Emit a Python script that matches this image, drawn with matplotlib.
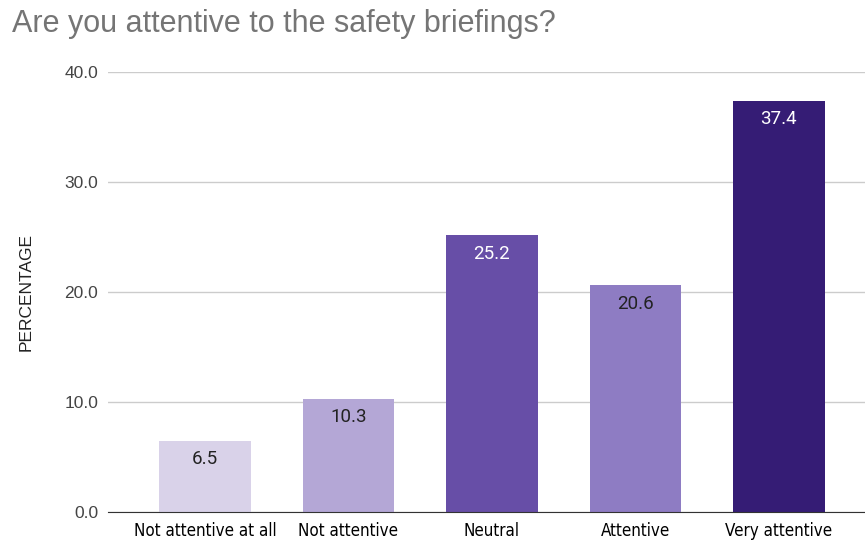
import matplotlib.pyplot as plt
from matplotlib import font_manager as fm

categories = ["Not attentive at all", "Not attentive", "Neutral", "Attentive", "Very attentive"]
values = [6.5, 10.3, 25.2, 20.6, 37.4]
colors = ["#d9d2e9", "#b4a7d6", "#674ea7", "#8e7cc3", "#351c75"]
label_colors = ["#222222", "#222222", "#ffffff", "#222222", "#ffffff"]

# narrow font for category labels if one is installed
cond = fm.FontProperties(family="DejaVu Sans", stretch="condensed", size=12.2)
if "Condensed" not in fm.findfont(cond):
    cond = fm.FontProperties(family="Liberation Sans", size=11)

fig = plt.figure(figsize=(8.65, 5.43), dpi=100)
ax = fig.add_axes([108 / 865, 31 / 543, 1 - 108 / 865, 440 / 543])

x = range(len(categories))
bars = ax.bar(x, values, width=0.64, color=colors, zorder=3)

for b, v, c in zip(bars, values, label_colors):
    ax.annotate(f"{v:.1f}", (b.get_x() + b.get_width() / 2, v),
                xytext=(0, -13.5), textcoords="offset points",
                ha="center", va="center", color=c, fontsize=13.5, family="Roboto")

ax.set_ylim(0, 40)
ax.set_xlim(-0.676, 4.6)
ax.set_yticks([0, 10, 20, 30, 40])
ax.set_yticklabels([f"{t:.1f}" for t in [0, 10, 20, 30, 40]])
ax.set_xticks(list(x))
ax.set_xticklabels(categories, fontproperties=cond)

ax.grid(axis="y", color="#cccccc", linewidth=1, zorder=0)
for s in ["top", "right", "left"]:
    ax.spines[s].set_visible(False)
ax.spines["bottom"].set_color("#333333")
ax.spines["bottom"].set_zorder(4)
ax.tick_params(axis="both", length=0)
ax.tick_params(axis="y", pad=7, labelcolor="#444444", labelsize=12.5)
ax.tick_params(axis="x", pad=7, labelcolor="#000000")
for lab in ax.get_yticklabels():
    lab.set_family("Liberation Sans")

ax.set_ylabel("PERCENTAGE", fontsize=12.5, family="Liberation Sans", color="#222222")
ax.yaxis.set_label_coords(-74 / 757, 0.5)

fig.text(12 / 865, 1 - 24 / 543, "Are you attentive to the safety briefings?",
         fontsize=22, color="#757575", family="Liberation Sans", va="center", ha="left")

fig.savefig("out.png", dpi=100)
